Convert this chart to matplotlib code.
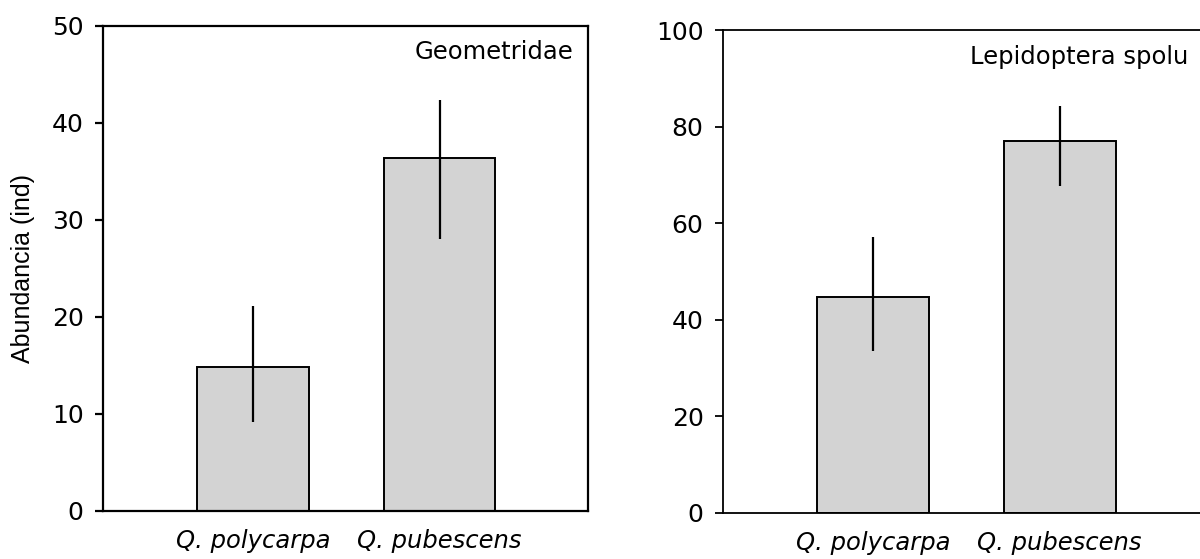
import matplotlib
matplotlib.use("Agg")
import matplotlib.pyplot as plt

plt.rcParams['font.family'] = ['DejaVu Sans']

categories = ["Q. polycarpa", "Q. pubescens"]

geo_means = [14.8, 36.4]
geo_low = [9.2, 28.0]
geo_high = [21.1, 42.4]

lep_means = [44.7, 77.0]
lep_low = [33.6, 67.8]
lep_high = [57.1, 84.2]

panel_titles = ["Geometridae", "Lepidoptera spolu"]
ylims = [50, 100]
ysteps = [10, 20]
title_pos = [(0.970, 0.947), (0.959, 0.944)]

fig = plt.figure(figsize=(12, 5.59), dpi=100)
ax1 = fig.add_axes([0.0858, 0.0859, 0.4042, 0.8676])
ax2 = fig.add_axes([0.6025, 0.0823, 0.4042, 0.864])

panels = [(ax1, geo_means, geo_low, geo_high, 1.6),
          (ax2, lep_means, lep_low, lep_high, 1.3)]

for i, (ax, means, low, high, lw) in enumerate(panels):
    x = list(range(len(categories)))
    yerr = [[m - l for m, l in zip(means, low)], [h - m for m, h in zip(means, high)]]
    ax.bar(x, means, width=0.6, color="#d3d3d3", edgecolor="black", linewidth=1.4, zorder=2)
    ax.errorbar(x, means, yerr=yerr, fmt="none", ecolor="black", elinewidth=1.6, capsize=0, zorder=3)
    ax.set_xlim(-0.804, 1.796)
    ax.set_ylim(0, ylims[i])
    ax.set_yticks(range(0, ylims[i] + 1, ysteps[i]))
    ax.set_xticks(x)
    ax.set_xticklabels(categories, fontsize=17.5, style="italic")
    ax.tick_params(axis="x", length=0, pad=13)
    ax.tick_params(axis="y", direction="out", length=6, width=lw, labelsize=18, pad=8)
    for s in ax.spines.values():
        s.set_linewidth(lw)
    ax.text(title_pos[i][0], title_pos[i][1], panel_titles[i], transform=ax.transAxes,
            ha="right", va="center", fontsize=17.5)

ax1.set_ylabel("Abundancia (ind)", fontsize=18, labelpad=12, family="Liberation Sans")

fig.savefig("out.png", dpi=100)
